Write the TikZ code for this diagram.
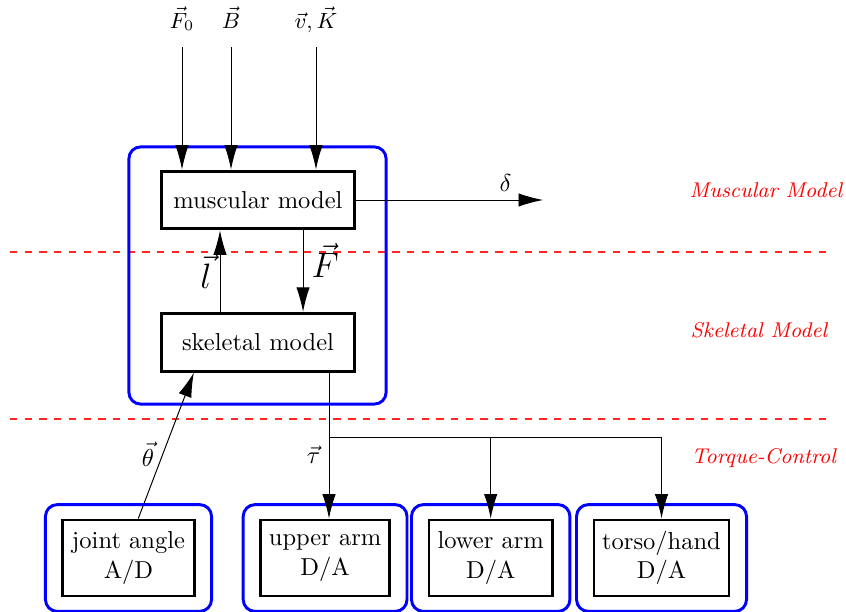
\documentclass[tikz,border=0pt]{standalone}
\usepackage{amssymb}
\usetikzlibrary{arrows.meta,positioning,fit}

\begin{document}
\begin{tikzpicture}[x=0.01435cm,y=-0.01435cm,>={Latex[length=10pt,width=5.5pt]},
  block/.style={draw=black,very thick,rectangle,minimum width=2.76cm,minimum height=0.83cm},
  io/.style={draw=black,very thick,rectangle,minimum height=1.09cm,align=center},
  frame/.style={draw=blue,very thick,rounded corners=0.17cm},
  input/.style={font=\small,inner xsep=1pt,text height=1.6ex,text depth=0.4ex},
  level/.style={red!85,dashed,line width=0.5pt},
  layer/.style={red,font=\fontsize{8.7}{10}\selectfont\itshape,anchor=west}]
\useasboundingbox (0,0) rectangle (846,612);
\draw[level] (10,252) -- (828,252);
\draw[level] (10,419) -- (828,419);
\node[layer] (lmus) at (681,190) {Muscular Model};
\node[layer] (lske) at (682,330) {Skeletal Model};
\node[layer] (ltor) at (683,458) {Torque-Control};
\node[frame,minimum width=3.69cm,minimum height=3.69cm] (sys) at (257.5,275.5) {};
\node[block] (musc) at (258,200) {muscular model};
\node[block,on grid,below=2.04cm of musc] (skel) {skeletal model};
\node[input] (f0) at (182,22) {$\vec{F}_0$};
\node[input] (b) at (231,22) {$\vec{B}$};
\node[input] (vk) at (316,22) {$\vec{v},\vec{K}$};
\draw[->,shorten <=2.4pt] (f0) -- (f0 |- musc.north);
\draw[->,shorten <=2.4pt] (b) -- (b |- musc.north);
\draw[->,shorten <=2.4pt] (vk) -- (vk |- musc.north);
\coordinate (dout) at (543,200);
\draw[->] (musc) -- (dout) node[pos=0.8,above] {$\delta$};
\draw[->] ([xshift=-0.545cm]skel.north) -- ([xshift=-0.545cm]musc.south)
    node[midway,left] {\Large$\vec{l}$};
\draw[->] ([xshift=0.646cm]musc.south) -- ([xshift=0.646cm]skel.north)
    node[pos=0.37,right] {\Large$\vec{F}$};
\node[io,minimum width=1.88cm] (joint) at (128.5,558) {joint angle\\A/D};
\node[io,minimum width=1.81cm,on grid,right=2.82cm of joint] (upper) {upper arm\\D/A};
\node[io,minimum width=1.77cm,on grid,right=2.375cm of upper] (lower) {lower arm\\D/A};
\node[io,minimum width=1.89cm,on grid,right=2.45cm of lower] (torso) {torso/hand\\D/A};
\node[frame,fit=(joint),inner xsep=0.23cm,inner ysep=0.2cm] (jointbox) {};
\node[frame,fit=(upper),inner xsep=0.23cm,inner ysep=0.2cm] (upperbox) {};
\node[frame,fit=(lower),inner xsep=0.23cm,inner ysep=0.2cm] (lowerbox) {};
\node[frame,fit=(torso),inner xsep=0.23cm,inner ysep=0.2cm] (torsobox) {};
\coordinate (split) at (329,437);
\draw (skel.south -| split) -- (split) -- (split -| torso.north);
\draw[->] (split) -- (split |- upper.north) node[pos=0.22,left] {$\vec{\tau}$};
\draw[->] (split -| lower.north) -- (lower.north);
\draw[->] (split -| torso.north) -- (torso.north);
\draw[->] ([xshift=0.14cm]joint.north) -- ([xshift=-0.92cm]skel.south)
    node[pos=0.44,left] {$\vec{\theta}$};
\end{tikzpicture}
\end{document}
